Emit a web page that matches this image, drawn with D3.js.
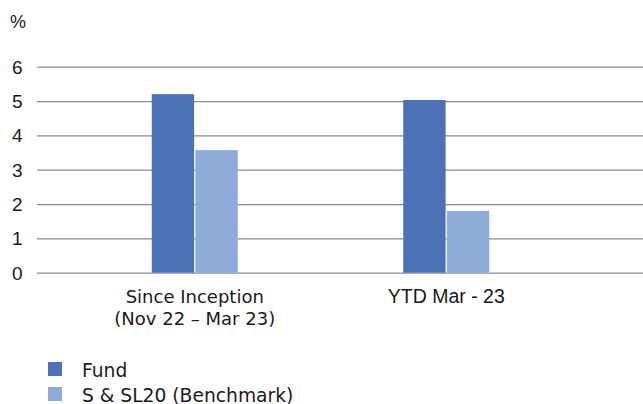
<!DOCTYPE html>
<html>
<head>
<meta charset="utf-8">
<script src="https://cdn.jsdelivr.net/npm/d3@7"></script>
<style>
  body { margin: 0; background: #fff; }
  svg text { font-family: "Liberation Sans", Arial, sans-serif; fill: #1a1a1a; }
  svg text.wide { font-family: "DejaVu Sans", sans-serif; }
</style>
</head>
<body>
<div id="chart"></div>
<script>
const categories = [['Since Inception', '(Nov 22 – Mar 23)'], ['YTD Mar - 23']]
const seriesNames = ['Fund', 'S & SL20 (Benchmark)']
const fundValues = [5.2, 5.03]
const benchmarkValues = [3.57, 1.8]
const yTicks = [0, 1, 2, 3, 4, 5, 6]
const colors = ['#4b71b7', '#8eabda']

const width = 643, height = 404

const svg = d3.select('#chart').append('svg')
  .attr('width', width)
  .attr('height', height)

// scales
const y = d3.scaleLinear().domain([0, 6]).range([272.7, 66.7])
const x0 = d3.scaleBand().domain(d3.range(categories.length)).range([69, 572])
const x1 = d3.scaleBand().domain(d3.range(seriesNames.length)).range([0, 86]).paddingInner(0.03)

const data = categories.map((c, i) => ({ i, values: [fundValues[i], benchmarkValues[i]] }))

// gridlines
const yAxis = svg.append('g')
  .attr('transform', 'translate(37,0)')
  .call(d3.axisRight(y).tickValues(yTicks).tickSize(width - 37).tickFormat(''))
yAxis.select('.domain').remove()
yAxis.selectAll('.tick line').attr('stroke', '#8c8c8c').attr('stroke-width', 1.2)

// y labels
svg.append('g').selectAll('text')
  .data(yTicks)
  .enter().append('text')
    .attr('x', 12)
    .attr('y', d => y(d) + 7)
    .style('font-size', '19px')
    .text(d => d)

svg.append('text')
  .attr('x', 10)
  .attr('y', 28)
  .style('font-size', '18px')
  .text('%')

// bars
const group = svg.selectAll('.group')
  .data(data)
  .enter().append('g')
    .attr('class', 'group')
    .attr('transform', d => 'translate(' + (x0(d.i) + (x0.bandwidth() - 86) / 2) + ',0)')

group.selectAll('rect')
  .data(d => d.values.map((v, k) => ({ v, k })))
  .enter().append('rect')
    .attr('x', d => x1(d.k))
    .attr('width', x1.bandwidth())
    .attr('y', d => y(d.v))
    .attr('height', d => y(0) - y(d.v))
    .attr('fill', d => colors[d.k])

// category labels
svg.selectAll('.cat')
  .data(categories)
  .enter().append('text')
    .attr('class', d => d.length > 1 ? 'cat wide' : 'cat')
    .attr('text-anchor', 'middle')
    .attr('x', (d, i) => x0(i) + x0.bandwidth() / 2)
    .attr('y', 303)
    .style('font-size', d => d.length > 1 ? '18px' : '19.5px')
    .each(function(d) {
      d3.select(this).selectAll('tspan')
        .data(d)
        .enter().append('tspan')
          .attr('x', d3.select(this).attr('x'))
          .attr('dy', (t, j) => j === 0 ? 0 : 22)
          .text(t => t)
    })

// legend
const legend = svg.selectAll('.legend')
  .data(seriesNames)
  .enter().append('g')
    .attr('class', 'legend')
    .attr('transform', (d, i) => 'translate(48,' + (362 + i * 25) + ')')

legend.append('rect')
  .attr('width', 14)
  .attr('height', 14)
  .attr('fill', (d, i) => colors[i])

legend.append('text')
  .attr('class', 'wide')
  .attr('x', 34)
  .attr('y', 14.5)
  .style('font-size', '18.7px')
  .text(d => d)
</script>
</body>
</html>
